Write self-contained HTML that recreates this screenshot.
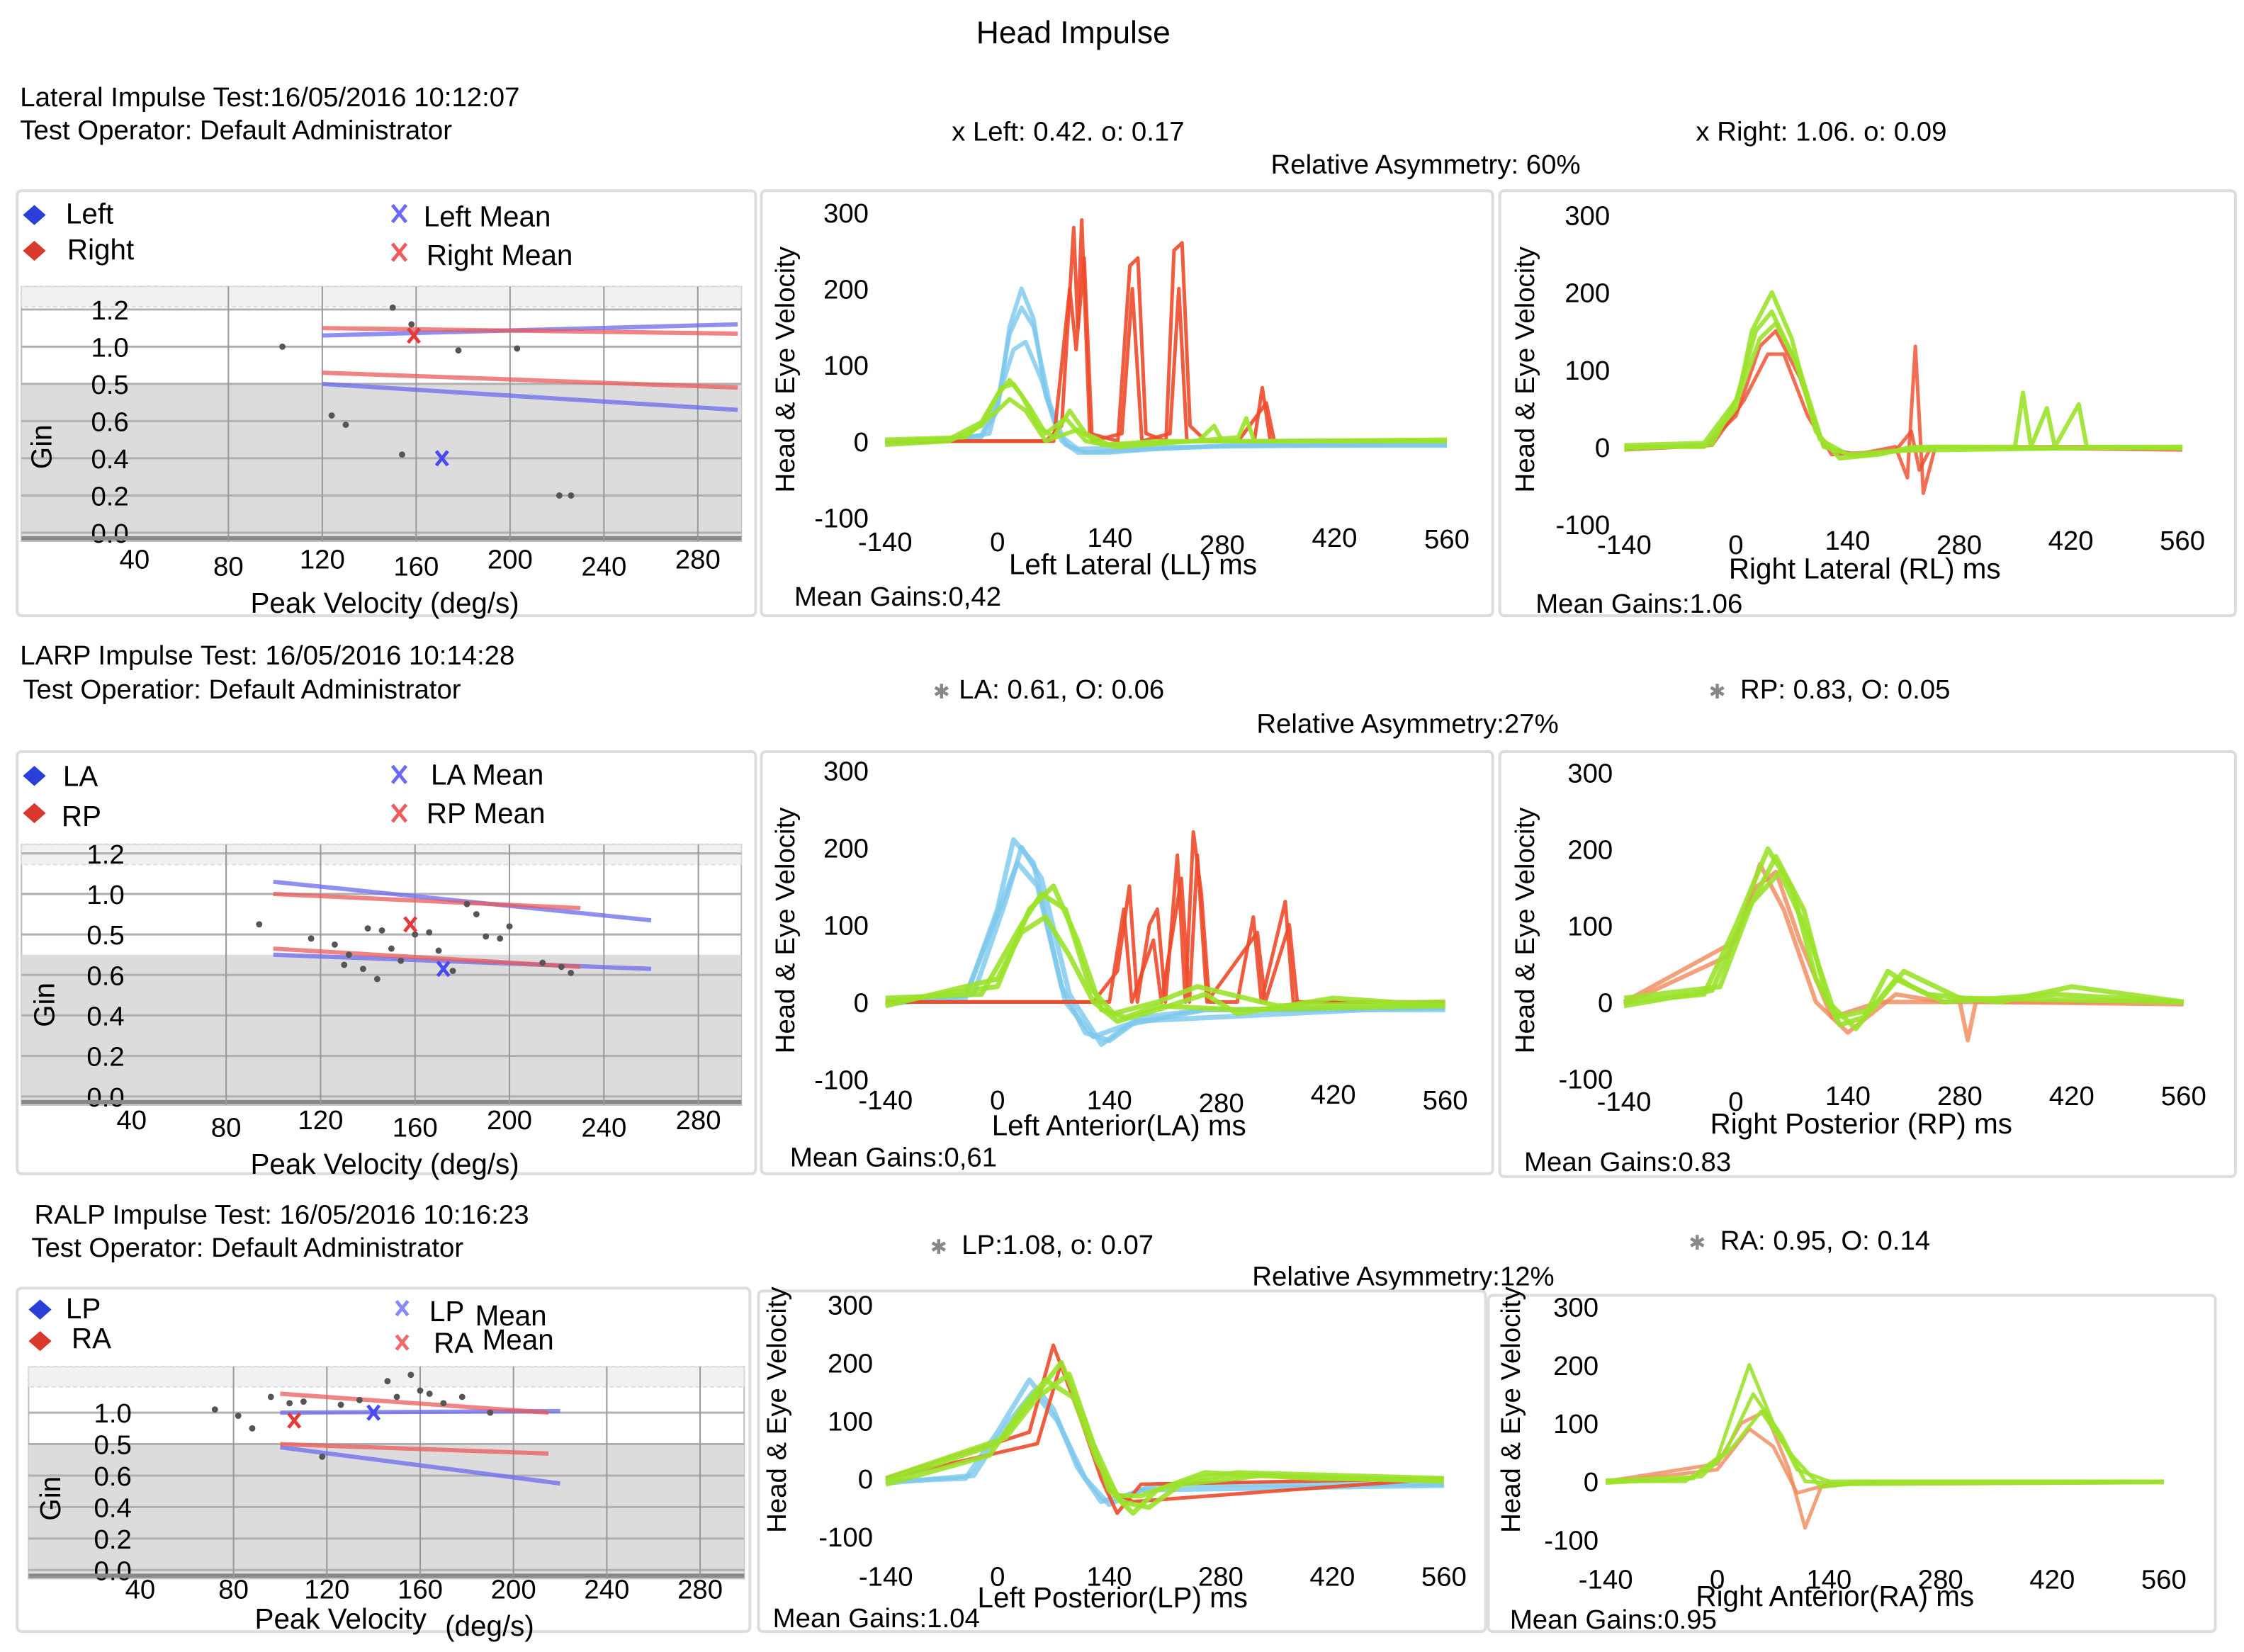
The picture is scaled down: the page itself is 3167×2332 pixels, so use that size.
<!DOCTYPE html>
<html><head><meta charset="utf-8"><style>
html,body{margin:0;padding:0;background:#fff;}
svg{display:block;font-family:"Liberation Sans",Arial,sans-serif;}
</style></head><body>
<svg id="chart" width="3167" height="2332" viewBox="0 0 1568 1154" xmlns="http://www.w3.org/2000/svg">
<rect x="0" y="0" width="1568" height="1154" fill="#fff"/>
<text x="750" y="30" font-size="22" text-anchor="middle">Head Impulse</text>

<text x="14" y="74" font-size="19">Lateral Impulse Test:16/05/2016 10:12:07</text>
<text x="14" y="97" font-size="19">Test Operator: Default Administrator</text>
<text x="665" y="98" font-size="19">x Left: 0.42. o: 0.17</text>
<text x="1185" y="98" font-size="19">x Right: 1.06. o: 0.09</text>
<text x="888" y="121" font-size="19">Relative Asymmetry: 60%</text>

<text x="14" y="464" font-size="19">LARP Impulse Test: 16/05/2016 10:14:28</text>
<text x="16" y="488" font-size="19">Test Operatior: Default Administrator</text>
<text x="652" y="488" font-size="14" fill="#888">✱</text>
<text x="670" y="488" font-size="19">LA: 0.61, O: 0.06</text>
<text x="1194" y="488" font-size="14" fill="#888">✱</text>
<text x="1216" y="488" font-size="19">RP: 0.83, O: 0.05</text>
<text x="878" y="512" font-size="19">Relative Asymmetry:27%</text>

<text x="24" y="855" font-size="19">RALP Impulse Test: 16/05/2016 10:16:23</text>
<text x="22" y="878" font-size="19">Test Operator: Default Administrator</text>
<text x="650" y="876" font-size="14" fill="#888">✱</text>
<text x="672" y="876" font-size="19">LP:1.08, o: 0.07</text>
<text x="1180" y="873" font-size="14" fill="#888">✱</text>
<text x="1202" y="873" font-size="19">RA: 0.95, O: 0.14</text>
<text x="875" y="898" font-size="19">Relative Asymmetry:12%</text>
</svg>
<script>
const NS="http://www.w3.org/2000/svg";
const svg=document.getElementById('chart');
function mk(tag,attrs,parent){const e=document.createElementNS(NS,tag);for(const k in attrs)e.setAttribute(k,attrs[k]);(parent||svg).appendChild(e);return e;}

/* ---------- scatter data ---------- */
const s1YLabels=["0.0","0.2","0.4","0.6","0.5","1.0","1.2"];
const s1XTicks=[40,80,120,160,200,240,280];
const s1Points=[[103,1.0],[150,1.21],[158,1.12],[178,0.98],[203,0.99],[124,0.63],[130,0.58],[154,0.42],[221,0.2],[226,0.2]];
const s1LeftMean=[171,0.4];
const s1RightMean=[159,1.06];
const s1BlueLines=[[[120,1.06],[297,1.12]],[[120,0.8],[297,0.66]]];
const s1RedLines=[[[120,1.1],[297,1.07]],[[120,0.86],[297,0.78]]];

const s2YLabels=["0.0","0.2","0.4","0.6","0.5","1.0","1.2"];
const s2XTicks=[40,80,120,160,200,240,280];
const s2Points=[[94,0.85],[116,0.78],[126,0.75],[132,0.7],[140,0.83],[146,0.82],[150,0.73],[154,0.67],[160,0.8],[166,0.81],[170,0.72],[176,0.62],[182,0.95],[186,0.9],[190,0.79],[196,0.78],[200,0.84],[214,0.66],[222,0.64],[226,0.61],[130,0.65],[138,0.63],[144,0.58]];
const s2LeftMean=[172,0.63];
const s2RightMean=[158,0.85];
const s2BlueLines=[[[100,1.06],[260,0.87]],[[100,0.7],[260,0.63]]];
const s2RedLines=[[[100,1.0],[230,0.93]],[[100,0.73],[230,0.64]]];

const s3YLabels=["0.0","0.2","0.4","0.6","0.5","1.0"];
const s3XTicks=[40,80,120,160,200,240,280];
const s3Points=[[72,1.02],[82,0.98],[88,0.9],[96,1.1],[104,1.06],[110,1.07],[118,0.72],[126,1.05],[134,1.08],[140,1.0],[150,1.1],[160,1.14],[164,1.12],[170,1.06],[178,1.1],[190,1.0],[146,1.2],[156,1.24]];
const s3LeftMean=[140,1.0];
const s3RightMean=[106,0.95];
const s3BlueLines=[[[100,1.0],[220,1.01]],[[100,0.78],[220,0.55]]];
const s3RedLines=[[[100,1.12],[215,1.0]],[[100,0.8],[215,0.74]]];

/* ---------- trace data [ms, deg/s] ---------- */
const llBlue=[
[[-140,0],[-60,0],[-20,5],[0,40],[15,150],[30,200],[45,160],[60,60],[80,0],[100,-15],[140,-15],[200,-10],[300,-5],[560,-5]],
[[-140,0],[-60,2],[-20,8],[0,50],[15,140],[30,175],[45,150],[65,50],[85,-5],[110,-15],[160,-12],[300,-6],[560,-6]],
[[-140,-3],[-60,0],[-10,10],[5,70],[20,120],[35,130],[55,80],[75,10],[100,-10],[200,-8],[560,-4]]];
const llGreen=[
[[-140,-5],[-60,0],[-20,20],[0,60],[15,80],[30,60],[50,20],[70,5],[90,40],[110,10],[140,-5],[250,0],[270,20],[280,0],[560,0]],
[[-140,0],[-60,3],[-20,25],[5,70],[20,75],[40,45],[60,10],[85,30],[110,0],[150,-8],[300,5],[310,30],[320,0],[560,2]],
[[-140,2],[-40,5],[0,40],[15,55],[35,40],[60,0],[100,15],[130,-5],[200,0],[560,0]]];
const llRed=[
[[-140,0],[60,0],[80,20],[95,280],[100,150],[105,290],[115,10],[150,0],[165,230],[175,240],[185,10],[210,0],[220,250],[230,260],[240,20],[260,0],[320,0],[330,70],[340,0],[560,0]],
[[-140,0],[70,0],[90,200],[98,120],[108,240],[118,0],[155,10],[168,200],[180,0],[215,10],[226,200],[236,0],[300,0],[335,50],[345,0],[560,0]]];

const rlGreen=[
[[-140,0],[-40,0],[0,50],[20,150],[45,200],[70,140],[100,20],[130,-15],[180,-10],[220,0],[300,0],[350,0],[360,70],[370,0],[390,50],[400,0],[430,55],[440,0],[560,0]],
[[-140,2],[-40,5],[0,60],[25,150],[45,175],[75,110],[105,10],[140,-10],[200,-5],[560,0]],
[[-140,-3],[-30,3],[5,70],[30,140],[50,160],[80,100],[110,0],[150,-12],[250,0],[560,-2]]];
const rlRed=[
[[-140,0],[-40,0],[0,40],[30,130],[50,150],[80,90],[110,0],[150,-10],[200,0],[215,-40],[225,130],[235,-60],[250,0],[560,0]],
[[-140,-4],[-30,2],[10,60],[40,120],[60,120],[90,40],[120,-10],[200,-5],[220,20],[230,-30],[245,0],[560,-4]]];

const laBlue=[
[[-140,0],[-40,5],[0,120],[20,210],[45,180],[80,20],[110,-40],[140,-50],[180,-20],[260,-10],[560,-10]],
[[-140,-3],[-40,8],[-5,100],[25,180],[50,150],[85,0],[120,-45],[160,-30],[260,-10],[560,-8]],
[[-140,2],[-30,10],[10,130],[30,200],[55,160],[90,10],[130,-55],[170,-25],[560,-5]]];
const laGreen=[
[[-140,0],[0,20],[40,120],[70,150],[100,80],[130,-10],[160,-20],[200,-5],[300,-10],[560,-5]],
[[-140,-5],[0,30],[30,90],[60,110],[90,60],[120,0],[150,-25],[200,-10],[260,10],[300,-15],[420,5],[560,-5]],
[[-140,5],[-20,10],[30,100],[55,140],[85,120],[115,20],[145,-15],[200,0],[250,20],[350,-5],[560,0]]];
const laRed=[
[[-140,0],[120,0],[150,40],[165,150],[175,0],[190,100],[200,120],[210,0],[225,190],[235,0],[245,220],[255,140],[265,0],[300,0],[320,110],[330,0],[360,130],[370,0],[400,0],[560,0]],
[[-140,0],[140,0],[158,120],[168,0],[195,80],[205,0],[230,160],[240,0],[250,190],[262,0],[325,90],[335,0],[365,100],[375,0],[560,0]]];

const rpGreen=[
[[-140,0],[-40,10],[0,100],[40,200],[70,150],[100,30],[130,-30],[160,-20],[190,40],[220,20],[260,0],[400,10],[560,0]],
[[-140,-5],[-30,15],[10,110],[50,190],[85,120],[115,0],[150,-35],[200,30],[240,10],[330,0],[420,20],[560,0]],
[[-140,5],[-20,20],[20,130],[55,170],[90,90],[125,-20],[170,-10],[210,40],[280,5],[560,0]]];
const rpOrange=[
[[-140,0],[0,80],[30,180],[60,120],[100,0],[140,-40],[200,10],[260,0],[560,0]],
[[-140,-3],[-10,60],[25,150],[50,170],[80,80],[120,-20],[180,0],[280,0],[290,-50],[300,0],[560,-3]]];

const lpBlue=[
[[-140,-5],[-40,0],[0,80],[40,170],[70,120],[100,20],[130,-40],[160,-30],[200,-10],[560,-10]],
[[-140,-8],[-30,5],[10,90],[45,150],[75,100],[110,0],[140,-45],[180,-20],[560,-12]]];
const lpGreen=[
[[-140,-5],[0,60],[40,130],[80,200],[110,100],[140,-20],[170,-60],[200,-20],[250,0],[300,10],[560,0]],
[[-140,-10],[-10,40],[30,120],[60,170],[95,140],[125,30],[155,-40],[190,-50],[230,-10],[330,5],[560,-5]],
[[-140,0],[10,70],[50,140],[90,180],[120,60],[150,-30],[180,-30],[260,10],[400,0],[560,-2]]];
const lpRed=[
[[-140,0],[40,80],[70,230],[100,120],[130,0],[150,-60],[180,-10],[560,0]],
[[-140,0],[50,60],[80,200],[110,90],[140,-20],[170,-40],[560,0]]];

const raGreen=[
[[-140,0],[-40,0],[0,40],[40,200],[70,100],[100,20],[140,0],[560,0]],
[[-140,-3],[-30,5],[10,50],[45,150],[80,80],[110,0],[160,-5],[560,-2]],
[[-140,2],[-20,8],[20,60],[55,120],[90,50],[130,-10],[200,0],[560,0]]];
const raOrange=[
[[-140,0],[0,30],[30,100],[60,120],[90,20],[110,-80],[130,-10],[180,0],[560,0]],
[[-140,-2],[0,20],[40,90],[70,60],[100,-20],[140,-5],[560,-2]]];

/* ---------- drawing ---------- */
function box(x,y,w,h,name){
  const r=mk('rect',{x:x,y:y,width:w,height:h,fill:'#fff',stroke:'#ddd','stroke-width':2,rx:3});
  
  
}
function txt(x,y,s,size,name,extra){
  const t=mk('text',Object.assign({x:x,y:y,'font-size':size},extra||{}));t.textContent=s;
  
  
  return t;
}
function diamond(cx,cy,color,name){
  const p=mk('polygon',{points:`${cx},${cy-7} ${cx+8},${cy} ${cx},${cy+7} ${cx-8},${cy}`,fill:color});
  
  
}
function cross(cx,cy,color,size,name){
  const g=mk('g',{stroke:color,'stroke-width':2.4});
  
  
  mk('line',{x1:cx-size*0.8,y1:cy-size,x2:cx+size*0.8,y2:cy+size},g);
  mk('line',{x1:cx+size*0.8,y1:cy-size,x2:cx-size*0.8,y2:cy+size},g);
}

function scatter(cfg,yLabels,xTicks,pts,lm,rm,bl,rl,prefix){
  const xs=v=>cfg.x40+(v-40)*cfg.kx;
  const ys=v=>cfg.y0-v/0.2*cfg.step;
  const g=mk('g',{});
  
  
  mk('rect',{x:cfg.left,y:cfg.top,width:cfg.right-cfg.left,height:cfg.bottom-cfg.top,fill:'#fff',stroke:'#bbb'},g);
  mk('rect',{x:cfg.left,y:cfg.top,width:cfg.right-cfg.left,height:14,fill:'#f1f1f1',stroke:'#ddd','stroke-dasharray':'3 2'},g);
  const gy=ys(cfg.grayFrom);
  mk('rect',{x:cfg.left,y:gy,width:cfg.right-cfg.left,height:cfg.bottom-gy,fill:'#dcdcdc'},g);
  yLabels.forEach((l,i)=>{
    const y=ys(i*0.2);
    mk('line',{x1:cfg.left,y1:y,x2:cfg.right,y2:y,stroke:'#b0b0b0','stroke-width':1.5},g);
    const t=mk('text',{x:cfg.left+cfg.labelDx,y:y+7,'font-size':19,'text-anchor':'end'},g);t.textContent=l;
    
    
  });
  mk('line',{x1:cfg.left,y1:cfg.bottom-2,x2:cfg.right,y2:cfg.bottom-2,stroke:'#888','stroke-width':3},g);
  xTicks.forEach((v,i)=>{
    const x=xs(v);
    if(i>0) mk('line',{x1:x+cfg.gridDx,y1:cfg.top,x2:x+cfg.gridDx,y2:cfg.bottom,stroke:'#999','stroke-width':1},g);
    const t=mk('text',{x:x,y:cfg.tickY+(i%2?cfg.jit:0),'font-size':19,'text-anchor':'middle'},g);t.textContent=v;
    
    
  });
  bl.forEach(L=>{const l=mk('line',{x1:xs(L[0][0]),y1:ys(L[0][1]),x2:xs(L[1][0]),y2:ys(L[1][1]),stroke:'#6a6af0','stroke-width':3,opacity:0.75},g);
    });
  rl.forEach(L=>{const l=mk('line',{x1:xs(L[0][0]),y1:ys(L[0][1]),x2:xs(L[1][0]),y2:ys(L[1][1]),stroke:'#ec5a5a','stroke-width':3,opacity:0.75},g);
    });
  pts.forEach(p=>{const c=mk('circle',{cx:xs(p[0]),cy:ys(p[1]),r:2.2,fill:'#555'},g);
    });
  cross(xs(lm[0]),ys(lm[1]),'#4a4af5',5,prefix+'-left-mean-marker');
  cross(xs(rm[0]),ys(rm[1]),'#e53a3a',5,prefix+'-right-mean-marker');
  txt(cfg.gx,cfg.gy,'Gin',20,prefix+'-y-axis-title',{transform:`rotate(-90 ${cfg.gx} ${cfg.gy})`,'text-anchor':'middle'});
}

function traces(cfg,groups,prefix){
  const xs=t=>cfg.x0+t*cfg.kx;
  const ys=v=>cfg.y0-v*cfg.ky;
  const g=mk('g',{});
  
  
  [300,200,100,0,-100].forEach(v=>{
    const t=mk('text',{x:cfg.lx,y:ys(v)+7,'font-size':19,'text-anchor':'end'},g);t.textContent=v;
    
  });
  [-140,0,140,280,420,560].forEach((v,i)=>{
    const t=mk('text',{x:xs(v),y:cfg.ty+(cfg.tjit[i]||0),'font-size':19,'text-anchor':'middle'},g);t.textContent=v;
    
  });
  groups.forEach(([arr,color,w,op])=>{
    arr.forEach(tr=>{
      const p=mk('polyline',{points:tr.map(q=>xs(q[0])+','+ys(q[1])).join(' '),fill:'none',stroke:color,'stroke-width':w,opacity:op,'stroke-linejoin':'round'},g);
      
      
    });
  });
  txt(cfg.vx,cfg.vy,'Head & Eye Velocity',19,prefix+'-y-axis-title',{transform:`rotate(-90 ${cfg.vx} ${cfg.vy})`,'text-anchor':'middle'});
}

box(12,133,516,297,'lateral-scatter-panel');box(532,133,511,297,'ll-trace-panel');box(1048,133,514,297,'rl-trace-panel');
box(12,525,516,295,'larp-scatter-panel');box(532,525,511,295,'la-trace-panel');box(1048,525,514,297,'rp-trace-panel');
box(12,900,512,240,'ralp-scatter-panel');box(530,902,508,238,'lp-trace-panel');box(1040,905,508,235,'ra-trace-panel');

diamond(24,150,'#2a3fd8','legend-left');txt(46,156,'Left',20,'legend-left-label');
diamond(24,175,'#d8392a','legend-right');txt(47,181,'Right',20,'legend-right-label');
cross(279,149,'#6a6af5',6,'legend-left-mean');txt(296,158,'Left Mean',20,'legend-left-mean-label');
cross(279,176,'#ef5a5a',6,'legend-right-mean');txt(298,185,'Right Mean',20,'legend-right-mean-label');

diamond(24,542,'#2a3fd8','legend-la');txt(44,549,'LA',20,'legend-la-label');
diamond(24,568,'#d8392a','legend-rp');txt(43,577,'RP',20,'legend-rp-label');
cross(279,541,'#6a6af5',6,'legend-la-mean');txt(301,548,'LA  Mean',20,'legend-la-mean-label');
cross(279,568,'#ef5a5a',6,'legend-rp-mean');txt(298,575,'RP  Mean',20,'legend-rp-mean-label');

diamond(28,915,'#2a3fd8','legend-lp');txt(46,921,'LP',20,'legend-lp-label');
diamond(28,937,'#d8392a','legend-ra');txt(50,942,'RA',20,'legend-ra-label');
cross(281,914,'#8a8af5',5,'legend-lp-mean');txt(300,923,'LP',20,'legend-lp-mean-label');txt(332,926,'Mean',20,'legend-lp-mean-word');
cross(281,938,'#ef6a6a',5,'legend-ra-mean');txt(303,945,'RA',20,'legend-ra-mean-label');txt(337,943,'Mean',20,'legend-ra-mean-word');

scatter({left:15,right:518,top:200,bottom:378,x40:94,kx:1.64,y0:372,step:26,grayFrom:0.8,labelDx:75,tickY:397,jit:5,gridDx:0,gx:36,gy:312},
  s1YLabels,s1XTicks,s1Points,s1LeftMean,s1RightMean,s1BlueLines,s1RedLines,'lateral');
txt(175,428,'Peak Velocity  (deg/s)',20,'lateral-x-axis-title');
scatter({left:15,right:518,top:590,bottom:772,x40:92,kx:1.65,y0:766,step:28.3,grayFrom:0.7,labelDx:72,tickY:789,jit:5,gridDx:0,gx:38,gy:702},
  s2YLabels,s2XTicks,s2Points,s2LeftMean,s2RightMean,s2BlueLines,s2RedLines,'larp');
txt(175,820,'Peak Velocity   (deg/s)',20,'larp-x-axis-title');
scatter({left:20,right:520,top:955,bottom:1103,x40:98,kx:1.63,y0:1097,step:22,grayFrom:0.8,labelDx:72,tickY:1117,jit:0,gridDx:0,gx:42,gy:1047},
  s3YLabels,s3XTicks,s3Points,s3LeftMean,s3RightMean,s3BlueLines,s3RedLines,'ralp');
txt(178,1138,'Peak Velocity',20,'ralp-x-axis-title');txt(311,1143,'(deg/s)',20,'ralp-x-axis-unit');

const LB='#7cc8ee',GR='#9be22a',RD='#ee4a2a',OR='#f08a5a';
traces({x0:697,kx:0.5607,y0:308,ky:0.533,lx:607,ty:385,tjit:[0,0,-3,2,-3,-2],vx:555,vy:258},
  [[llBlue,LB,3,0.8],[llRed,RD,2.5,0.9],[llGreen,GR,3,0.9]],'ll');
txt(705,401,'Left Lateral (LL) ms',20,'ll-x-axis-title');txt(555,423,'Mean Gains:0,42',19,'ll-mean-gains');
traces({x0:1213,kx:0.5571,y0:312,ky:0.54,lx:1125,ty:387,tjit:[0,0,-3,0,-3,-3],vx:1072,vy:258},
  [[rlRed,RD,2.5,0.8],[rlGreen,GR,3,0.9]],'rl');
txt(1208,404,'Right Lateral (RL) ms',20,'rl-x-axis-title');txt(1073,428,'Mean Gains:1.06',19,'rl-mean-gains');

traces({x0:697,kx:0.5586,y0:700,ky:0.54,lx:607,ty:775,tjit:[0,0,0,2,-4,0],vx:555,vy:650},
  [[laBlue,LB,3.5,0.8],[laRed,RD,2.5,0.9],[laGreen,GR,3.5,0.9]],'la');
txt(693,793,'Left Anterior(LA) ms',20,'la-x-axis-title');txt(552,815,'Mean Gains:0,61',19,'la-mean-gains');
traces({x0:1213,kx:0.5586,y0:700,ky:0.535,lx:1127,ty:772,tjit:[4,4,0,0,0,0],vx:1072,vy:650},
  [[rpOrange,OR,3,0.8],[rpGreen,GR,3.5,0.9]],'rp');
txt(1195,792,'Right Posterior (RP) ms',20,'rp-x-axis-title');txt(1065,818,'Mean Gains:0.83',19,'rp-mean-gains');

traces({x0:697,kx:0.5571,y0:1033,ky:0.405,lx:610,ty:1108,tjit:[0,0,0,0,0,0],vx:549,vy:985},
  [[lpBlue,LB,3.5,0.8],[lpRed,RD,2.5,0.9],[lpGreen,GR,3.5,0.9]],'lp');
txt(683,1123,'Left Posterior(LP) ms',20,'lp-x-axis-title');txt(540,1137,'Mean Gains:1.04',19,'lp-mean-gains');
traces({x0:1200,kx:0.5571,y0:1035,ky:0.407,lx:1117,ty:1110,tjit:[0,0,0,0,0,0],vx:1062,vy:985},
  [[raOrange,OR,2.5,0.8],[raGreen,GR,2.5,0.9]],'ra');
txt(1185,1122,'Right Anterior(RA) ms',20,'ra-x-axis-title');txt(1055,1138,'Mean Gains:0.95',19,'ra-mean-gains');
</script>
</body></html>
